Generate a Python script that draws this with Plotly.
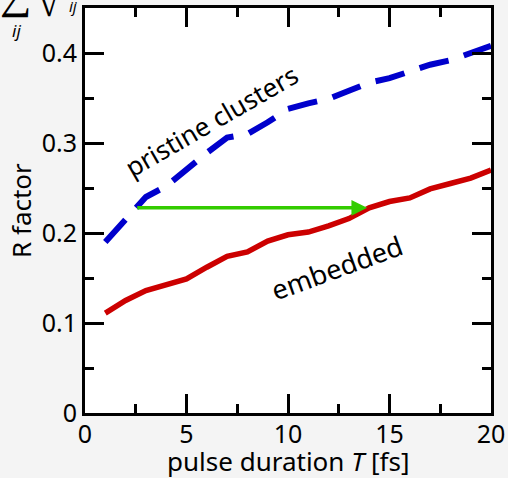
import plotly.graph_objects as go

pulse_T = list(range(1, 21))
embedded = [0.111, 0.125, 0.136, 0.142, 0.149, 0.162, 0.174, 0.179, 0.191, 0.198,
            0.201, 0.208, 0.216, 0.228, 0.235, 0.239, 0.249, 0.255, 0.261, 0.270]
pristine = [0.190, 0.214, 0.240, 0.252, 0.271, 0.289, 0.306, 0.310, 0.323, 0.338,
            0.344, 0.349, 0.358, 0.367, 0.372, 0.380, 0.387, 0.392, 0.400, 0.408]
arrow_from = (2.5, 0.228)
arrow_to = (13.9, 0.228)

FONT = "Noto Sans"
W, H = 508, 478
L, R, T, B = 85, 17, 8, 65
PW, PH = W - L - R, H - T - B


def px(xp):
    return (xp - L) / PW


def py(yp):
    return 1 - (yp - T) / PH


fig = go.Figure()
fig.add_trace(go.Scatter(x=pulse_T, y=pristine, mode="lines",
                         line=dict(color="#0000cc", width=6, dash="30px,16px"),
                         showlegend=False))
fig.add_trace(go.Scatter(x=pulse_T, y=embedded, mode="lines",
                         line=dict(color="#cc0000", width=5.5),
                         showlegend=False))

fig.add_annotation(x=arrow_to[0], y=arrow_to[1], ax=arrow_from[0], ay=arrow_from[1],
                   xref="x", yref="y", axref="x", ayref="y", text="",
                   showarrow=True, arrowhead=2, arrowsize=0.9, arrowwidth=3.5,
                   arrowcolor="#33cc00", standoff=0, startstandoff=0)

fig.add_annotation(x=6.2, y=0.325, xref="x", yref="y", text="pristine clusters",
                   showarrow=False, textangle=-30,
                   font=dict(family=FONT, size=26, color="black"))
fig.add_annotation(x=12.4, y=0.162, xref="x", yref="y", text="embedded",
                   showarrow=False, textangle=-20,
                   font=dict(family=FONT, size=27, color="black"))

# axis titles placed as annotations (pixel-accurate)
fig.add_annotation(x=px(288), y=py(461), xref="paper", yref="paper",
                   text="pulse duration <i>T</i> [fs]", showarrow=False,
                   xanchor="center", yanchor="middle",
                   font=dict(family=FONT, size=26, color="black"))
fig.add_annotation(x=px(21), y=py(211), xref="paper", yref="paper",
                   text="R factor", showarrow=False, textangle=-90,
                   xanchor="center", yanchor="middle",
                   font=dict(family=FONT, size=26, color="black"))

# clipped formula at top-left of the page
fig.add_annotation(x=px(15), y=py(-9), xref="paper", yref="paper", text="∑",
                   showarrow=False, font=dict(family=FONT, size=44, color="black"),
                   xanchor="center", yanchor="middle")
fig.add_annotation(x=px(16), y=py(30), xref="paper", yref="paper", text="<i>ij</i>",
                   showarrow=False, font=dict(family=FONT, size=17, color="black"),
                   xanchor="center", yanchor="middle")
fig.add_annotation(x=px(49), y=py(0), xref="paper", yref="paper", text="√",
                   showarrow=False, font=dict(family=FONT, size=40, color="black"),
                   xanchor="center", yanchor="middle")
fig.add_annotation(x=px(73), y=py(6), xref="paper", yref="paper", text="<i>ij</i>",
                   showarrow=False, font=dict(family=FONT, size=15, color="black"),
                   xanchor="center", yanchor="middle")

axis_common = dict(showline=True, linecolor="black", linewidth=3, mirror="allticks",
                   ticks="inside", tickcolor="black", tickwidth=2.5, ticklen=19,
                   showgrid=False, zeroline=False, automargin=False,
                   tickfont=dict(family=FONT, size=25, color="black"),
                   minor=dict(ticks="inside", ticklen=9, tickwidth=2.5, tickcolor="black"))

fig.update_xaxes(range=[0, 20], tickvals=[0, 5, 10, 15, 20],
                 minor_dtick=2.5, minor_tick0=0, ticklabelstandoff=-3, **axis_common)
fig.update_yaxes(range=[0, 0.45], tickvals=[0, 0.1, 0.2, 0.3, 0.4],
                 ticktext=["0", "0.1", "0.2", "0.3", "0.4"],
                 minor_dtick=0.05, minor_tick0=0, **axis_common)

fig.update_layout(width=W, height=H, margin=dict(l=L, r=R, t=T, b=B, autoexpand=False),
                  paper_bgcolor="#f4f4f4", plot_bgcolor="white")

fig.write_html("out.html")
